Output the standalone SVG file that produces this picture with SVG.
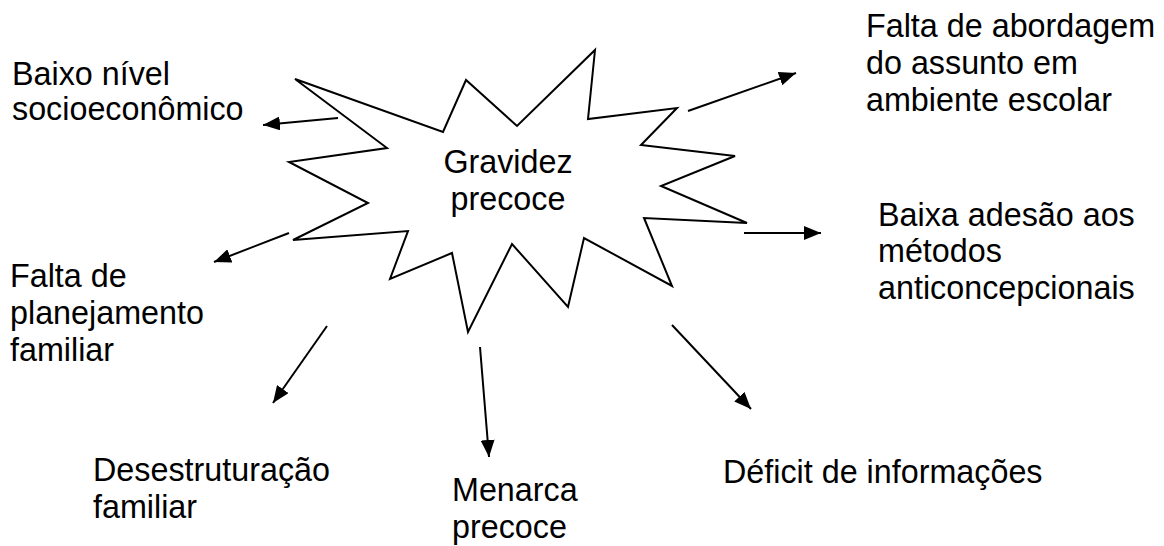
<svg xmlns="http://www.w3.org/2000/svg" width="1164" height="546" viewBox="0 0 1164 546">
<style>
text{font-family:"Liberation Sans",Arial,sans-serif;font-size:32.3px;fill:#000}
.ln{stroke:#000;stroke-width:2;fill:none;marker-end:url(#ah)}
</style>
<defs>
<marker id="ah" viewBox="0 0 17 14" refX="17" refY="7" markerWidth="17" markerHeight="14" markerUnits="userSpaceOnUse" orient="auto"><path d="M0,0 L17,7 L0,14 z" fill="#000"/></marker>
</defs>
<rect width="1164" height="546" fill="#fff"/>
<g id="center">
<polygon points="295,79 443,132 466,80 517,126 595,50 588,119 677,108 641,145 735,156 661,186 747,223 644,218 672,286 584,238 568,307 512,244 468,332 452,253 390,279 408,231 293,240 368,203 289,162 387,148" fill="#fff" stroke="#000" stroke-width="2" stroke-linejoin="miter"/>
<text x="508" y="173" text-anchor="middle">Gravidez</text>
<text x="508" y="210" text-anchor="middle">precoce</text>
</g>
<g id="connectors">
<line class="ln" x1="338" y1="118" x2="263" y2="125"/>
<line class="ln" x1="289" y1="233" x2="214" y2="262"/>
<line class="ln" x1="327" y1="326" x2="273" y2="403"/>
<line class="ln" x1="480" y1="347" x2="489" y2="457"/>
<line class="ln" x1="672" y1="325" x2="751" y2="409"/>
<line class="ln" x1="744" y1="233" x2="821" y2="233"/>
<line class="ln" x1="688" y1="111" x2="796" y2="73"/>
</g>
<g id="n-baixo-nivel">
<text x="12" y="85">Baixo nível</text>
<text x="12" y="120">socioeconômico</text>
</g>
<g id="n-falta-planejamento">
<text x="10" y="287">Falta de</text>
<text x="10" y="324">planejamento</text>
<text x="10" y="361">familiar</text>
</g>
<g id="n-desestruturacao">
<text x="93" y="481">Desestruturação</text>
<text x="93" y="518">familiar</text>
</g>
<g id="n-menarca">
<text x="452" y="501">Menarca</text>
<text x="452" y="538">precoce</text>
</g>
<g id="n-deficit">
<text x="723" y="483">Déficit de informações</text>
</g>
<g id="n-baixa-adesao">
<text x="878" y="226">Baixa adesão aos</text>
<text x="878" y="262">métodos</text>
<text x="878" y="299">anticoncepcionais</text>
</g>
<g id="n-falta-abordagem">
<text x="866" y="37">Falta de abordagem</text>
<text x="866" y="74">do assunto em</text>
<text x="866" y="111">ambiente escolar</text>
</g>
</svg>
